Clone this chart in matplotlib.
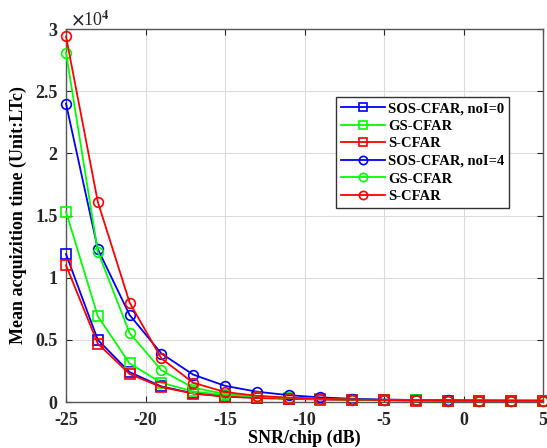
import matplotlib
matplotlib.use("Agg")
import matplotlib.pyplot as plt

plt.rcParams['font.family'] = ['Liberation Serif', 'DejaVu Serif']
plt.rcParams['font.weight'] = 'bold'
plt.rcParams['axes.unicode_minus'] = False
plt.rcParams['mathtext.fontset'] = 'stix'

snr = [-25, -23, -21, -19, -17, -15, -13, -11, -9, -7, -5, -3, -1, 1, 3, 5]

# noI = 0 (squares)
sos0 = [1.19, 0.50, 0.24, 0.125, 0.07, 0.045, 0.035, 0.028, 0.022, 0.018, 0.015, 0.013, 0.012, 0.011, 0.010, 0.010]
gs0 = [1.53, 0.69, 0.31, 0.155, 0.085, 0.055, 0.04, 0.03, 0.024, 0.019, 0.016, 0.014, 0.012, 0.011, 0.010, 0.010]
s0 = [1.10, 0.47, 0.225, 0.12, 0.068, 0.043, 0.032, 0.025, 0.02, 0.017, 0.014, 0.012, 0.011, 0.010, 0.010, 0.010]
# noI = 4 (circles)
sos4 = [2.40, 1.23, 0.70, 0.39, 0.22, 0.13, 0.083, 0.055, 0.037, 0.026, 0.02, 0.016, 0.014, 0.012, 0.011, 0.010]
gs4 = [2.81, 1.21, 0.555, 0.255, 0.115, 0.065, 0.045, 0.033, 0.025, 0.02, 0.016, 0.014, 0.012, 0.011, 0.010, 0.010]
s4 = [2.94, 1.61, 0.80, 0.35, 0.155, 0.08, 0.05, 0.035, 0.026, 0.02, 0.016, 0.014, 0.012, 0.011, 0.010, 0.010]

series = [
    (sos0, 'b', 's', 'SOS-CFAR, noI=0'),
    (gs0, 'lime', 's', 'GS-CFAR'),
    (s0, 'r', 's', 'S-CFAR'),
    (sos4, 'b', 'o', 'SOS-CFAR, noI=4'),
    (gs4, 'lime', 'o', 'GS-CFAR'),
    (s4, 'r', 'o', 'S-CFAR'),
]

fig = plt.figure(figsize=(5.47, 4.48), dpi=100)
ax = fig.add_axes([66/547, 46/448, 477/547, 373/448])

for vals, col, mk, lab in series:
    ax.plot(snr, vals, color=col, marker=mk, markersize=7, markerfacecolor='none',
            markeredgecolor=col, markeredgewidth=1.2, linewidth=1.3, label=lab,
            clip_on=False, zorder=3)

ax.set_xlim(-25, 5)
ax.set_ylim(0, 3)
ax.set_xticks([-25, -20, -15, -10, -5, 0, 5])
ax.set_yticks([0, 0.5, 1, 1.5, 2, 2.5, 3])
ax.set_yticklabels(['0', '0.5', '1', '1.5', '2', '2.5', '3'])
ax.grid(True, color='#dcdcdc', linewidth=0.8)
ax.tick_params(direction='in', top=True, right=True, labelsize=13, colors='#262626', length=4)
ax.tick_params(axis='x', pad=7)
ax.tick_params(axis='y', pad=6)
for sp in ax.spines.values():
    sp.set_color('#555555')
    sp.set_linewidth(1.0)

ax.text(0.01, 1.0, r'$\times\mathregular{10}^{4}$', transform=ax.transAxes, fontsize=13,
        ha='left', va='bottom', color='#262626', fontweight='normal')

ax.set_xlabel('SNR/chip (dB)', fontsize=13, fontweight='bold', labelpad=1)
ax.set_ylabel('Mean acquizition time (Unit:LTc)', fontsize=13, fontweight='bold', labelpad=6)

leg = ax.legend(loc='upper left', bbox_to_anchor=(0.566, 0.818), fontsize=10.5,
                frameon=True, fancybox=False, edgecolor='#333333', framealpha=1,
                handlelength=3.0, labelspacing=0.3, borderpad=0.35, handletextpad=0.2,
                borderaxespad=0, markerscale=0.85)
leg.get_frame().set_linewidth(1.0)

fig.savefig('out.png', dpi=100)
